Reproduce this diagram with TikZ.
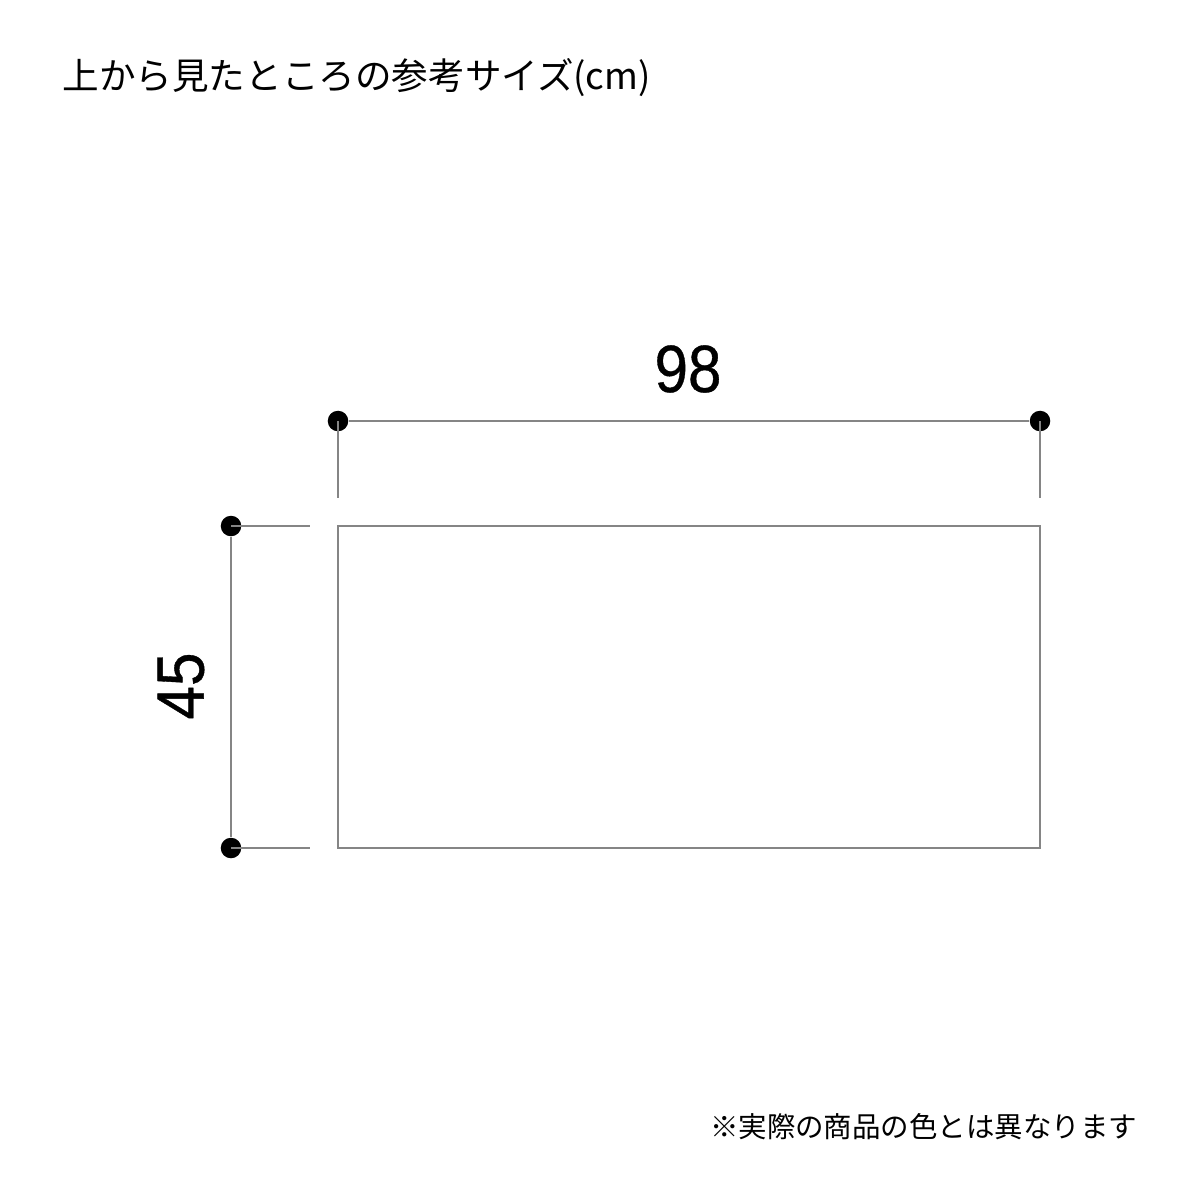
\documentclass[tikz,border=0pt]{standalone}
\usepackage{fontspec}
\setmainfont{Liberation Sans}
\newfontfamily\jpfont{Noto Sans CJK JP}
\newfontfamily\digitfont[FakeBold=0.6]{Liberation Sans}
\usetikzlibrary{positioning}

\begin{document}
\begin{tikzpicture}[x=0.01cm, y=-0.01cm, inner sep = 0pt,
    dimline/.style={draw=black!48, line width=0.65pt},
    dimdot/.style={circle, fill=black, minimum size=0.205cm}]
    \useasboundingbox (0,0) rectangle (1200,1200);

    \node[anchor=west] at (62, 78) (title) {\jpfont\fontsize{10.4pt}{12pt}\selectfont 上から見たところの参考サイズ(cm)};
    \node[anchor=east] at (1138, 1127) (note) {\jpfont\fontsize{8.1pt}{10pt}\selectfont ※実際の商品の色とは異なります};

    \coordinate (nw) at (338, 526);
    \coordinate (ne) at (1040, 526);
    \coordinate (se) at (1040, 848);
    \coordinate (sw) at (338, 848);

    \node[dimdot] at (338, 421) (tl) {};
    \node[dimdot] at (1040, 421) (tr) {};
    \node[dimdot] at (231, 526) (lt) {};
    \node[dimdot] at (231, 848) (lb) {};
    \coordinate (tlend) at (338, 498);
    \coordinate (trend) at (1040, 498);
    \coordinate (ltend) at (310, 526);
    \coordinate (lbend) at (310, 848);

    \node at (688, 369) (width) {\digitfont\fontsize{19pt}{20pt}\selectfont\scalebox{0.9}[1]{98}};
    \node[rotate=90] at (181, 686) (depth) {\digitfont\fontsize{19pt}{20pt}\selectfont\scalebox{0.9}[1]{45}};

    \draw[dimline] (nw) -- (ne) -- (se) -- (sw) -- cycle;
    \draw[dimline] (tl) -- (tr);
    \draw[dimline] (tl.center) -- (tlend);
    \draw[dimline] (tr.center) -- (trend);
    \draw[dimline] (lt) -- (lb);
    \draw[dimline] (lt.center) -- (ltend);
    \draw[dimline] (lb.center) -- (lbend);
\end{tikzpicture}
\end{document}
